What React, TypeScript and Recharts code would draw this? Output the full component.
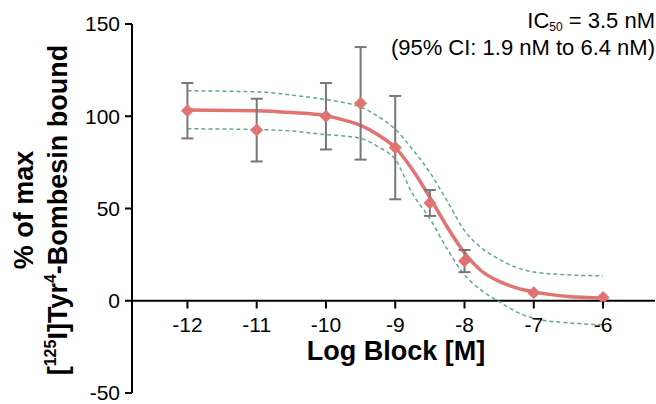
import { ComposedChart, Line, Scatter, ErrorBar, XAxis, YAxis, ReferenceLine } from 'recharts';

// measured points
const logDose = [-12, -11, -10, -9.5, -9, -8.5, -8, -7, -6];
const meanBound = [103, 92.5, 100, 107, 83, 53, 21.5, 4.3, 1.8];
const semBound = [15, 17, 18, 30.5, 28, 7, 6, 0, 0];

// fitted curve and 95% band
const fitX = [-12, -11, -10.5, -10, -9.75, -9.5, -9.25, -9, -8.75, -8.5, -8.25, -8, -7.75, -7.5, -7.25, -7, -6.5, -6];
const fitMid = [103.4, 103, 102, 100.3, 98, 95, 90, 83, 71, 56, 40, 26, 16, 10.5, 7, 4.8, 2.3, 1.5];
const fitUpper = [113.8, 113.2, 111.5, 109, 107.5, 105, 100, 93, 82, 69.5, 54, 38, 28.5, 22.5, 18, 15.6, 14, 13.5];
const fitLower = [93.2, 92.8, 92, 90, 89.3, 88, 83.5, 76.6, 58, 44.5, 28, 14, 5.5, -0.5, -6, -9.5, -12, -13];

const xTicks = [-12, -11, -10, -9, -8, -7, -6];
const yTicks = [-50, 0, 50, 100, 150];
const xDomain: [number, number] = [-12.8, -5.25];
const yDomain: [number, number] = [-50, 150];

const W = 656;
const H = 404;
const plotTop = 24;
const plotBottom = 10;
const plotH = H - plotTop - plotBottom;
const zeroY = plotTop + ((yDomain[1] - 0) / (yDomain[1] - yDomain[0])) * plotH;

const font = '"Liberation Sans", Arial, sans-serif';
const red = '#E27373';
const green = '#5EAA8C';

const points = logDose.map((x, i) => ({ x, y: meanBound[i], err: semBound[i] }));
const mid = fitX.map((x, i) => ({ x, y: fitMid[i] }));
const upper = fitX.map((x, i) => ({ x, y: fitUpper[i] }));
const lower = fitX.map((x, i) => ({ x, y: fitLower[i] }));

function XTick(props: any) {
  const { x, payload } = props;
  return (
    <g transform={`translate(${x},${zeroY})`}>
      <line x1={0} y1={0} x2={0} y2={7} stroke="#000" strokeWidth={2} />
      <text x={0} y={30} textAnchor="middle" fontSize={21} fontFamily={font} fill="#000">
        {payload.value}
      </text>
    </g>
  );
}

function Diamond(props: any) {
  const { cx, cy } = props;
  const r = 6.5;
  return <polygon points={`${cx},${cy - r} ${cx + r},${cy} ${cx},${cy + r} ${cx - r},${cy}`} fill={red} />;
}

export default function App() {
  return (
    <div style={{ position: 'absolute', left: 0, top: 0, width: W, height: H, background: '#fff', fontFamily: font }}>
      <ComposedChart width={W} height={H} margin={{ top: plotTop, right: 1, bottom: plotBottom, left: 72 }}>
        <XAxis
          type="number"
          dataKey="x"
          domain={xDomain}
          ticks={xTicks}
          interval={0}
          allowDataOverflow
          axisLine={false}
          tickLine={false}
          height={1}
          tick={<XTick />}
        />
        <YAxis
          type="number"
          domain={yDomain}
          ticks={yTicks}
          interval={0}
          width={60}
          axisLine={{ stroke: '#000', strokeWidth: 2 }}
          tickLine={{ stroke: '#000', strokeWidth: 2 }}
          tickSize={7}
          tickMargin={5}
          tick={{ fontSize: 21, fill: '#000', fontFamily: font }}
        />
        <ReferenceLine y={0} stroke="#000" strokeWidth={2} />
        <Line data={upper} dataKey="y" type="monotone" stroke={green} strokeWidth={1.5} strokeDasharray="4 3" dot={false} isAnimationActive={false} />
        <Line data={lower} dataKey="y" type="monotone" stroke={green} strokeWidth={1.5} strokeDasharray="4 3" dot={false} isAnimationActive={false} />
        <Line data={mid} dataKey="y" type="monotone" stroke={red} strokeWidth={3.5} dot={false} isAnimationActive={false} />
        <Scatter data={points} dataKey="y" shape={<Diamond />} isAnimationActive={false}>
          <ErrorBar dataKey="err" direction="y" width={6} stroke="#777" strokeWidth={2} />
        </Scatter>
      </ComposedChart>
      <svg width={W} height={H} style={{ position: 'absolute', left: 0, top: 0, pointerEvents: 'none' }}>
        <text x={396} y={360} textAnchor="middle" fontSize={27} fontWeight="bold" fontFamily={font} fill="#000">
          Log Block [M]
        </text>
        <g transform="translate(33,210) rotate(-90)">
          <text x={0} y={0} textAnchor="middle" fontSize={27} fontWeight="bold" fontFamily={font} fill="#000">
            % of max
          </text>
        </g>
        <g transform="translate(67,210) rotate(-90)">
          <text x={0} y={0} textAnchor="middle" fontSize={27} fontWeight="bold" fontFamily={font} fill="#000">
            [<tspan fontSize={16} dy={-11}>125</tspan>
            <tspan dy={11}>I]Tyr</tspan>
            <tspan fontSize={16} dy={-11}>4</tspan>
            <tspan dy={11}>-Bombesin bound</tspan>
          </text>
        </g>
        <text x={655} y={28} textAnchor="end" fontSize={22} fontFamily={font} fill="#000">
          IC<tspan fontSize={12} dy={3}>50</tspan>
          <tspan dy={-3}> = 3.5 nM</tspan>
        </text>
        <text x={655} y={55} textAnchor="end" fontSize={22} fontFamily={font} fill="#000">
          (95% CI: 1.9 nM to 6.4 nM)
        </text>
      </svg>
    </div>
  );
}
